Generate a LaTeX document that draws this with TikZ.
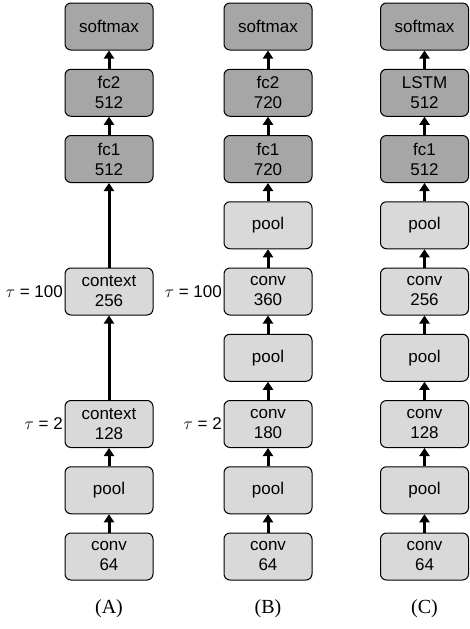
\documentclass[tikz,border=0pt]{standalone}
\usepackage{fontspec}
\setmainfont{Liberation Serif}
\newfontfamily\layerfont{Liberation Sans}
\usetikzlibrary{arrows.meta}

\definecolor{layerlight}{RGB}{217,217,217}
\definecolor{layerdark}{RGB}{166,166,166}

\tikzset{
  layer/.style={draw=black, line width=1pt, rounded corners=6pt,
    minimum width=88pt, minimum height=47pt, inner sep=0pt, align=center,
    font=\layerfont\fontsize{17}{20}\selectfont},
  lightlayer/.style={layer, fill=layerlight},
  darklayer/.style={layer, fill=layerdark},
  flow/.style={-{Triangle[length=8pt,width=10pt]}, line width=3pt},
  taulabel/.style={anchor=east, inner sep=1.5pt,
    font=\layerfont\fontsize{17}{20}\selectfont},
  netcaption/.style={font=\rmfamily\fontsize{20}{22}\selectfont}
}

\begin{document}
\begin{tikzpicture}[x=1pt, y=-1pt]
\useasboundingbox (0,0) rectangle (469,629);

% column A: context layers
\node[darklayer]  (aSoft) at (109,26.5)   {softmax};
\node[darklayer]  (aFc2)  at (109,92.75)  {fc2\\512};
\node[darklayer]  (aFc1)  at (109,159)    {fc1\\512};
\node[lightlayer] (aCtxB) at (109,291.5)  {context\\256};
\node[lightlayer] (aCtxA) at (109,424)    {context\\128};
\node[lightlayer] (aPool) at (109,490.25) {pool};
\node[lightlayer] (aConv) at (109,556.5)  {conv\\64};
\node[taulabel] (aTauB) at (aCtxB.west) {$\tau$ = 100};
\node[taulabel] (aTauA) at (aCtxA.west) {$\tau$ = 2};
\draw[flow] (aConv) -- (aPool);
\draw[flow] (aPool) -- (aCtxA);
\draw[flow] (aCtxA) -- (aCtxB);
\draw[flow] (aCtxB) -- (aFc1);
\draw[flow] (aFc1) -- (aFc2);
\draw[flow] (aFc2) -- (aSoft);
\node[netcaption] (capA) at (109,609) {(A)};

% column B: dilated convolutions
\node[darklayer]  (bSoft)  at (268,26.5)   {softmax};
\node[darklayer]  (bFc2)   at (268,92.75)  {fc2\\720};
\node[darklayer]  (bFc1)   at (268,159)    {fc1\\720};
\node[lightlayer] (bPoolC) at (268,225.25) {pool};
\node[lightlayer] (bConvC) at (268,291.5)  {conv\\360};
\node[lightlayer] (bPoolB) at (268,357.75) {pool};
\node[lightlayer] (bConvB) at (268,424)    {conv\\180};
\node[lightlayer] (bPoolA) at (268,490.25) {pool};
\node[lightlayer] (bConvA) at (268,556.5)  {conv\\64};
\node[taulabel] (bTauB) at (bConvC.west) {$\tau$ = 100};
\node[taulabel] (bTauA) at (bConvB.west) {$\tau$ = 2};
\draw[flow] (bConvA) -- (bPoolA);
\draw[flow] (bPoolA) -- (bConvB);
\draw[flow] (bConvB) -- (bPoolB);
\draw[flow] (bPoolB) -- (bConvC);
\draw[flow] (bConvC) -- (bPoolC);
\draw[flow] (bPoolC) -- (bFc1);
\draw[flow] (bFc1) -- (bFc2);
\draw[flow] (bFc2) -- (bSoft);
\node[netcaption] (capB) at (268,609) {(B)};

% column C: convolutions with an LSTM head
\node[darklayer]  (cSoft)  at (424.5,26.5)   {softmax};
\node[darklayer]  (cLstm)  at (424.5,92.75)  {LSTM\\512};
\node[darklayer]  (cFc1)   at (424.5,159)    {fc1\\512};
\node[lightlayer] (cPoolC) at (424.5,225.25) {pool};
\node[lightlayer] (cConvC) at (424.5,291.5)  {conv\\256};
\node[lightlayer] (cPoolB) at (424.5,357.75) {pool};
\node[lightlayer] (cConvB) at (424.5,424)    {conv\\128};
\node[lightlayer] (cPoolA) at (424.5,490.25) {pool};
\node[lightlayer] (cConvA) at (424.5,556.5)  {conv\\64};
\draw[flow] (cConvA) -- (cPoolA);
\draw[flow] (cPoolA) -- (cConvB);
\draw[flow] (cConvB) -- (cPoolB);
\draw[flow] (cPoolB) -- (cConvC);
\draw[flow] (cConvC) -- (cPoolC);
\draw[flow] (cPoolC) -- (cFc1);
\draw[flow] (cFc1) -- (cLstm);
\draw[flow] (cLstm) -- (cSoft);
\node[netcaption] (capC) at (424.5,609) {(C)};
\end{tikzpicture}
\end{document}
